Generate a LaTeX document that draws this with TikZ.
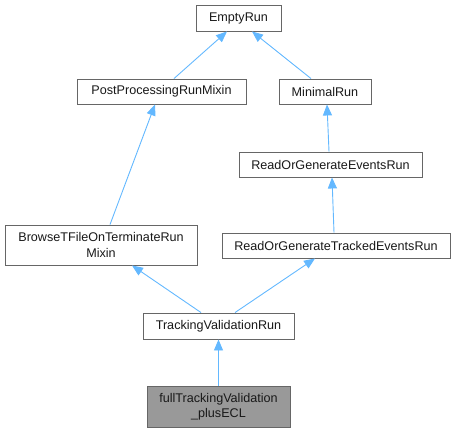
\documentclass[tikz,border=0pt]{standalone}
\usepackage{fontspec}
\setmainfont{Liberation Sans}
\usetikzlibrary{arrows.meta}
\definecolor{edgeblue}{HTML}{63B8FF}
\definecolor{boxgray}{HTML}{666666}
\definecolor{fillgray}{HTML}{999999}
\begin{document}
\begin{tikzpicture}[x=1pt,y=-1pt,
  cls/.style={draw=boxgray, line width=0.9pt, fill=white, inner sep=0pt, align=center,
    font=\fontsize{12.6}{15.5}\selectfont, text=black!90},
  cur/.style={cls, fill=fillgray},
  inh/.style={draw=edgeblue, line width=0.9pt, {Triangle[length=11pt,width=9pt,fill=edgeblue]}-}]
\useasboundingbox (0,0) rectangle (455,432);
\node[cls, minimum width=85pt, minimum height=26pt] (empty) at (238.5,18) {EmptyRun};
\node[cls, minimum width=169pt, minimum height=25pt] (pp) at (161.5,91.5) {PostProcessingRunMixin};
\node[cls, minimum width=92pt, minimum height=25pt] (min) at (325,91.5) {MinimalRun};
\node[cls, minimum width=183pt, minimum height=25pt] (roge) at (330.5,164.5) {ReadOrGenerateEventsRun};
\node[cls, minimum width=192pt, minimum height=40pt] (browse) at (101,245) {BrowseTFileOnTerminateRun\\Mixin};
\node[cls, minimum width=228pt, minimum height=25pt] (trk) at (336,245.5) {ReadOrGenerateTrackedEventsRun};
\node[cls, minimum width=151pt, minimum height=26pt] (tv) at (218.5,326) {TrackingValidationRun};
\node[cur, minimum width=143pt, minimum height=41pt] (full) at (218.5,406.5) {fullTrackingValidation\\\_plusECL};

\draw[inh] ([xshift=-11.5pt]empty.south) -- ([xshift=12.5pt]pp.north);
\draw[inh] ([xshift=13.5pt]empty.south) -- ([xshift=-14pt]min.north);
\draw[inh] ([xshift=-6.5pt]pp.south) -- ([xshift=9pt]browse.north);
\draw[inh] ([xshift=2pt]min.south) -- ([xshift=-1.5pt]roge.north);
\draw[inh] ([xshift=1.5pt]roge.south) -- ([xshift=-2pt]trk.north);
\draw[inh] ([xshift=31pt]browse.south) -- ([xshift=-17.5pt]tv.north);
\draw[inh] ([xshift=-21pt]trk.south) -- ([xshift=16.5pt]tv.north);
\draw[inh] (tv.south) -- (full.north);
\end{tikzpicture}
\end{document}
